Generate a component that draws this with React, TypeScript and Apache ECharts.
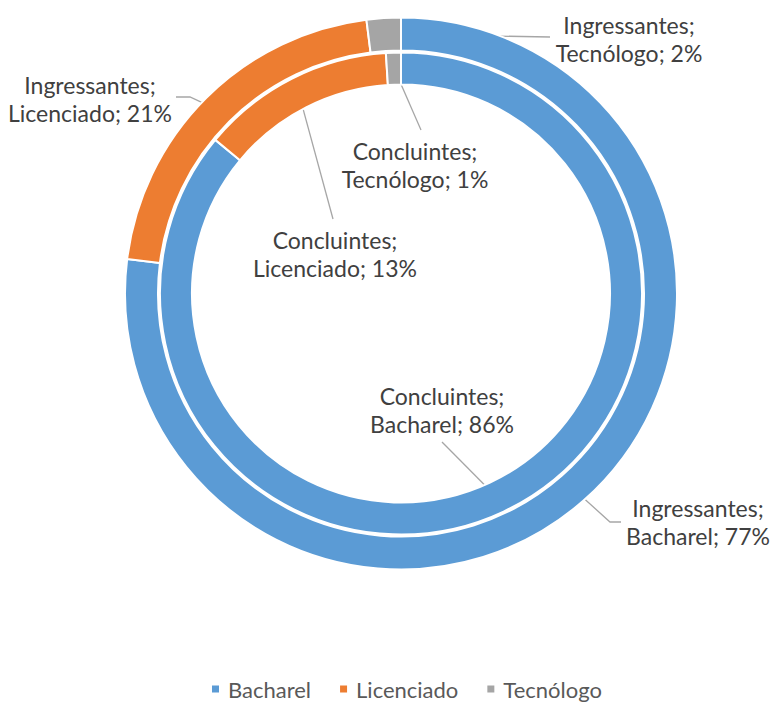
import React, { useEffect, useRef } from "react";
import * as echarts from "echarts";

const categories = ["Bacharel", "Licenciado", "Tecnólogo"];
const ingressantes = [77, 21, 2];
const concluintes = [86, 13, 1];
const seriesNames = ["Ingressantes", "Concluintes"];
const colors = ["#5B9BD5", "#ED7D31", "#A5A5A5"];

const CX = 401;
const CY = 293.5;
const OUTER: [number, number] = [243, 276];
const INNER: [number, number] = [209, 241];

// label layout (center of label block) and leader-line geometry, per [series][item]
const labelPos: number[][][] = [
  [
    [698, 522],
    [90, 99],
    [629, 39],
  ],
  [
    [442, 410],
    [335, 254],
    [415, 165],
  ],
];
// intermediate points (elbow + end) of each leader line
const linePts: number[][][][] = [
  [
    [
      [610, 522],
      [621, 522],
    ],
    [
      [190, 97],
      [176, 97],
    ],
    [[550, 37]],
  ],
  [[[442, 442]], [[333, 219]], [[421, 130]]],
];

function anchor(values: number[], idx: number, r: [number, number]) {
  const total = values.reduce((a, b) => a + b, 0);
  let cum = 0;
  for (let i = 0; i < idx; i++) cum += values[i];
  const mid = ((cum + values[idx] / 2) / total) * Math.PI * 2;
  const rr = (r[0] + r[1]) / 2 + 0.5;
  return [CX + rr * Math.sin(mid), CY - rr * Math.cos(mid)];
}

export default function App() {
  const ref = useRef<HTMLDivElement>(null);
  useEffect(() => {
    if (!ref.current) return;
    const chart = echarts.init(ref.current, undefined, { renderer: "svg" });
    const font = "Lato, 'Liberation Sans', sans-serif";
    const makeSeries = (si: number, values: number[], radius: [number, number]) => ({
      type: "pie",
      name: seriesNames[si],
      center: [CX, CY],
      radius,
      startAngle: 90,
      clockwise: true,
      avoidLabelOverlap: false,
      itemStyle: { borderColor: "#ffffff", borderWidth: 2 },
      emphasis: { disabled: true },
      label: {
        show: true,
        position: "outside",
        color: "#404040",
        fontFamily: font,
        fontSize: 23,
        lineHeight: 28,
        align: "center",
        formatter: (p: any) => `${p.seriesName};\n${p.name}; ${p.value}%`,
      },
      labelLine: {
        show: true,
        lineStyle: { color: "#A6A6A6", width: 1.3 },
      },
      labelLayout: (params: any) => {
        const i = params.dataIndex;
        const pos = labelPos[si][i];
        const a = anchor(values, i, radius);
        return {
          x: pos[0],
          y: pos[1],
          align: "center",
          verticalAlign: "middle",
          labelLinePoints: [a, ...linePts[si][i]],
        };
      },
      data: categories.map((c, i) => ({
        name: c,
        value: values[i],
        itemStyle: { color: colors[i] },
      })),
    });
    chart.setOption({
      animation: false,
      backgroundColor: "#ffffff",
      color: colors,
      legend: {
        show: true,
        data: categories,
        left: 210,
        top: 678,
        padding: 0,
        icon: "rect",
        itemWidth: 9,
        itemHeight: 9,
        itemGap: 27,
        textStyle: {
          color: "#595959",
          fontFamily: font,
          fontSize: 22,
          padding: [0, 0, 0, 3],
        },
      },
      series: [makeSeries(0, ingressantes, OUTER), makeSeries(1, concluintes, INNER)],
    });
    return () => chart.dispose();
  }, []);
  return (
    <div
      ref={ref}
      style={{ position: "fixed", left: 0, top: 0, width: 770, height: 702 }}
    />
  );
}
